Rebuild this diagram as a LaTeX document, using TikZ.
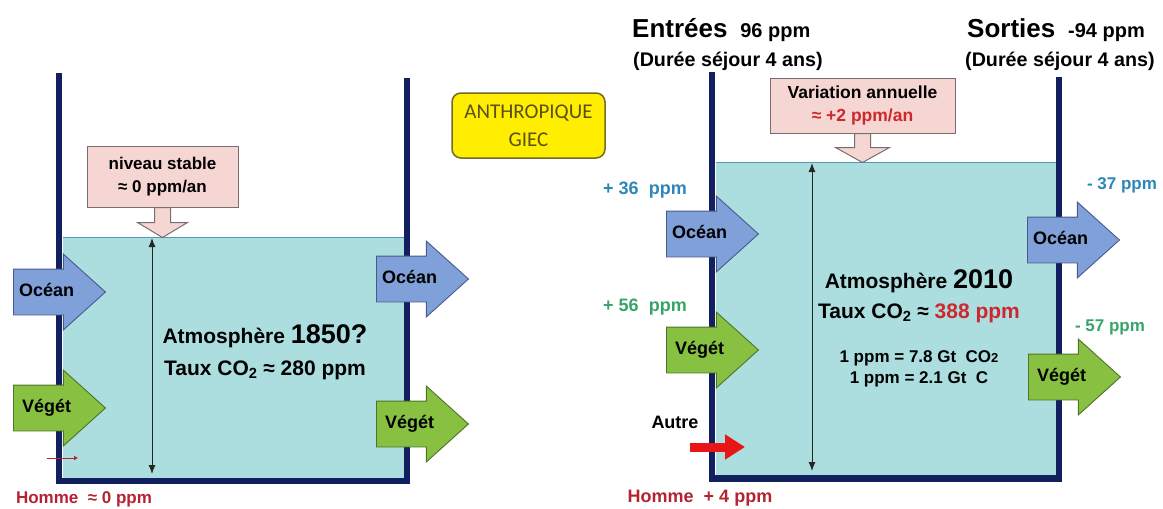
\documentclass[tikz,border=0pt]{standalone}
\usepackage{fontspec}
\setmainfont{Liberation Sans}
\newfontfamily\calibri{Carlito}
\usetikzlibrary{shapes.arrows,arrows.meta}

\newcommand{\fsz}[2]{\fontsize{#1}{#2}\selectfont}

\definecolor{wall}{RGB}{18,32,96}
\definecolor{air}{RGB}{172,222,224}
\definecolor{airline}{RGB}{80,150,190}
\definecolor{pinkfill}{RGB}{246,214,210}
\definecolor{pinkline}{RGB}{120,110,110}
\definecolor{oceanfill}{RGB}{128,160,218}
\definecolor{oceanline}{RGB}{70,90,140}
\definecolor{vegfill}{RGB}{136,192,66}
\definecolor{vegline}{RGB}{76,116,40}
\definecolor{giecfill}{RGB}{255,238,0}
\definecolor{giecline}{RGB}{115,105,40}
\definecolor{giectext}{RGB}{90,80,20}
\definecolor{oceantext}{RGB}{45,135,185}
\definecolor{vegtext}{RGB}{55,165,105}
\definecolor{redtext}{RGB}{205,40,45}
\definecolor{hommetext}{RGB}{180,35,50}
\definecolor{autrered}{RGB}{232,22,22}

\begin{document}
\begin{tikzpicture}[x=1pt,y=-1pt,
  wallline/.style={draw=wall, line width=6.5pt, line join=miter},
  level/.style={draw=airline, line width=1pt},
  height/.style={{Latex[length=9pt,width=7pt]}-{Latex[length=9pt,width=7pt]}, line width=1pt, draw=black!85},
  pinkbox/.style={draw=pinkline, fill=pinkfill, line width=1pt, align=center, font={\bfseries\fsz{17}{23}}, inner sep=0pt},
  pinkhead/.style={draw=pinkline, fill=pinkfill, line width=1pt, line join=miter},
  flow/.style={single arrow, draw, line width=0.9pt, single arrow head extend=15pt, single arrow tip angle=84,
    minimum height=92pt, inner xsep=3pt, inner ysep=15pt, text width=55pt, align=center, text height=12pt, text depth=3pt,
    anchor=tail, font={\bfseries\fsz{18}{20}}},
  ocean/.style={flow, fill=oceanfill, draw=oceanline},
  veget/.style={flow, fill=vegfill, draw=vegline},
  lbl/.style={font={\bfseries\fsz{18}{20}}, inner sep=0pt},
  atm/.style={font={\bfseries\fsz{21}{25}}, anchor=base, inner sep=0pt},
  head/.style={anchor=base west, font=\bfseries, inner sep=0pt}]
\useasboundingbox (0,0) rectangle (1163,509);

% 1850
\fill[air] (63,237) rectangle (404,478);
\draw[level] (63,237) -- (404,237);
\draw[wallline] (59,73) -- (59,481) -- (407,481) -- (407,78);
\coordinate (topL) at (152,238);
\coordinate (botL) at (152,474);
\draw[height] (topL) -- (botL);
\node[pinkbox, minimum width=151, minimum height=61] (stable) at (162.5,176.5) {niveau stable\\≈ 0 ppm/an};
\draw[pinkhead] ([xshift=-8pt]stable.south) -- ++(0,15) -- ++(-17,0) -- ++(25,15) -- ++(25,-15) -- ++(-17,0) -- ++(0,-15) -- cycle;
\node[ocean] (oceanInL) at (13,292) {Océan};
\node[veget] (vegetInL) at (13,408) {Végét};
\node[ocean] (oceanOutL) at (376,279) {Océan};
\node[veget] (vegetOutL) at (376,424) {Végét};
\node[atm] (atmL) at (265,343) {Atmosphère {\fsz{27}{30}1850?}};
\node[atm] (tauxL) at (265,375) {Taux CO\textsubscript{2} ≈ 280 ppm};
\coordinate (hommeA) at (47,458);
\coordinate (hommeB) at (78,458);
\draw[hommetext, line width=1pt, -{Latex[length=4pt,width=5pt]}] (hommeA) -- (hommeB);
\node[lbl, font={\bfseries\fsz{17}{20}}, text=hommetext] (hommeL) at (84,499) {Homme\ \ ≈ 0 ppm};

\node[draw=giecline, fill=giecfill, line width=1.5pt, rounded corners=9pt, minimum width=153, minimum height=65,
  align=center, text=giectext, font={\calibri\fsz{21}{28}}] (giec) at (528.5,125.5) {ANTHROPIQUE\\GIEC};

% 2010
\fill[air] (716,162) rectangle (1056,476);
\draw[level] (716,162) -- (1056,162);
\draw[wallline] (712,72) -- (712,478.5) -- (1059,478.5) -- (1059,77);
\coordinate (topR) at (812,163);
\coordinate (botR) at (812,471);
\draw[height] (topR) -- (botR);
\node[pinkbox, font={\bfseries\fsz{17.5}{23}}, minimum width=185, minimum height=55] (variation) at (862.5,105.5) {Variation annuelle\\\textcolor{redtext}{≈ +2 ppm/an}};
\draw[pinkhead] ([xshift=-8pt]variation.south) -- ++(0,14) -- ++(-19,0) -- ++(27,15) -- ++(27,-15) -- ++(-19,0) -- ++(0,-14) -- cycle;
\node[ocean] (oceanInR) at (666,234) {Océan};
\node[veget] (vegetInR) at (666,350) {Végét};
\node[ocean] (oceanOutR) at (1027,240) {Océan};
\node[veget] (vegetOutR) at (1028,377) {Végét};
\node[lbl, text=oceantext] (inOcean) at (645,190) {+ 36\ \ ppm};
\node[lbl, text=vegtext] (inVeget) at (645,307) {+ 56\ \ ppm};
\node[lbl, font={\bfseries\fsz{17}{20}}, text=oceantext] (outOcean) at (1122,185) {- 37 ppm};
\node[lbl, font={\bfseries\fsz{17}{20}}, text=vegtext] (outVeget) at (1110,327) {- 57 ppm};
\node[lbl] (autre) at (675,422) {Autre};
\coordinate (autreA) at (690,447);
\coordinate (autreB) at (745,447);
\draw[autrered, line width=9pt, -{Triangle[length=20pt,width=24pt]}] (autreA) -- (autreB);
\node[lbl, text=hommetext] (hommeR) at (700,498) {Homme\ \ + 4 ppm};
\node[atm] (atmR) at (919,288) {Atmosphère {\fsz{27}{30}2010}};
\node[atm] (tauxR) at (919,318) {Taux CO\textsubscript{2} ≈ \textcolor{redtext}{388 ppm}};
\node[atm, font={\bfseries\fsz{17}{20}}] (convCO) at (919,362) {1 ppm = 7.8 Gt\ \ CO{\fsz{13}{14}2}};
\node[atm, font={\bfseries\fsz{17}{20}}] (convC) at (919,383) {1 ppm = 2.1 Gt\ \ C};

\node[head] (entrees) at (632,37) {\fsz{26}{30}Entrées {\fsz{20}{22} 96 ppm}};
\node[head, font={\bfseries\fsz{19.7}{22}}] (dureeIn) at (633,66) {(Durée séjour 4 ans)};
\node[head] (sorties) at (967,37) {\fsz{26}{30}Sorties {\fsz{20}{22} -94 ppm}};
\node[head, font={\bfseries\fsz{19.7}{22}}] (dureeOut) at (965,66) {(Durée séjour 4 ans)};
\end{tikzpicture}
\end{document}
